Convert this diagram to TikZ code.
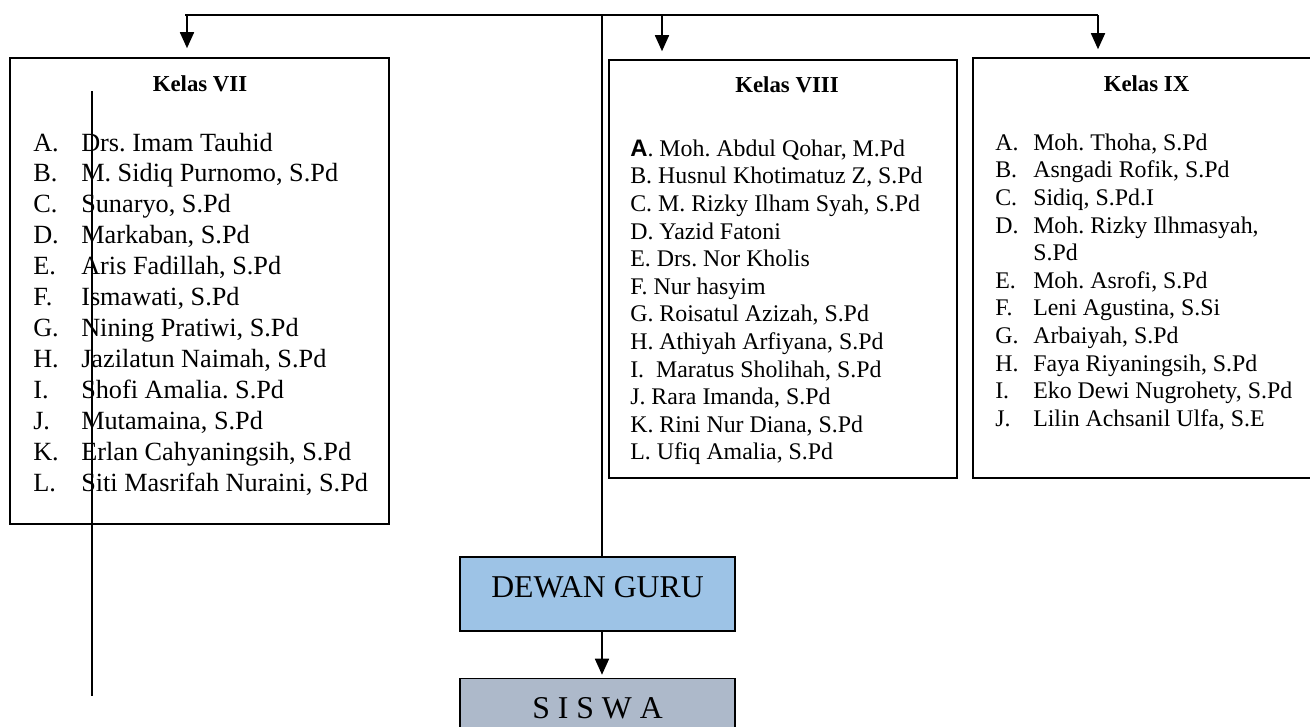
\documentclass[tikz,border=0pt]{standalone}
\usepackage{fontspec}
\setmainfont{Liberation Serif}
\newfontfamily\arialfont{Liberation Sans}
\usetikzlibrary{arrows.meta,positioning}
\definecolor{dgfill}{RGB}{157,195,230}
\definecolor{swfill}{RGB}{173,185,202}
\frenchspacing

\begin{document}
\begin{tikzpicture}[
    x=0.75pt, y=-0.75pt,
    box/.style={draw, line width=1.2pt, inner sep=0pt},
    ttl/.style={font=\fontsize{17.1}{20}\selectfont\bfseries, inner sep=0pt, anchor=base},
    lst/.style={inner sep=0pt, anchor=north west, align=left},
    big/.style={draw, line width=1.1pt, minimum width=206.25pt, minimum height=55.5pt, text height=15.75pt, text depth=11.25pt, font=\fontsize{23.8}{28}\selectfont},
    arr/.style={-{Triangle[width=10.5pt,length=12pt]}, line width=1.3pt},
    thin/.style={line width=0.8pt}
]
\useasboundingbox (0,0) rectangle (1310,726);
\clip (0,0) rectangle (1310,726);
\fill[white] (0,0) rectangle (1310,726);

% --- class boxes ---
\node[box, minimum width=284.25pt, minimum height=349.5pt] (k7) at (199.5,291) {};
\node[box, minimum width=261pt, minimum height=313.5pt] (k8) at (783,269) {};
\node[box, minimum width=260.25pt, minimum height=315pt] (k9) at (1146.5,268) {};

\node[ttl] (t7) at (200,91) {Kelas VII};
\node[ttl] (t8) at (787,92) {Kelas VIII};
\node[ttl] (t9) at (1146.5,91) {Kelas IX};

% --- teacher lists ---
\node[lst, font=\fontsize{19.7}{23.2}\selectfont] (l7) at (33,129.1) {%
  \begin{tabular}{@{}p{36pt}@{}l@{}}
  A. & Drs. Imam Tauhid\\
  B. & M. Sidiq Purnomo, S.Pd\\
  C. & Sunaryo, S.Pd\\
  D. & Markaban, S.Pd\\
  E. & Aris Fadillah, S.Pd\\
  F. & Ismawati, S.Pd\\
  G. & Nining Pratiwi, S.Pd\\
  H. & Jazilatun Naimah, S.Pd\\
  I. & Shofi Amalia. S.Pd\\
  J. & Mutamaina, S.Pd\\
  K. & Erlan Cahyaningsih, S.Pd\\
  L. & Siti Masrifah Nuraini, S.Pd
  \end{tabular}};

\node[lst, font=\fontsize{17.9}{20.7}\selectfont] (l8) at (630,136.7) {%
  \begin{tabular}{@{}l@{}}
  {\arialfont\bfseries A}. Moh. Abdul Qohar, M.Pd\\
  B. Husnul Khotimatuz Z, S.Pd\\
  C. M. Rizky Ilham Syah, S.Pd\\
  D. Yazid Fatoni\\
  E. Drs. Nor Kholis\\
  F. Nur hasyim\\
  G. Roisatul Azizah, S.Pd\\
  H. Athiyah Arfiyana, S.Pd\\
  I.\ \ Maratus Sholihah, S.Pd\\
  J. Rara Imanda, S.Pd\\
  K. Rini Nur Diana, S.Pd\\
  L. Ufiq Amalia, S.Pd
  \end{tabular}};

\node[lst, font=\fontsize{17.9}{20.7}\selectfont] (l9) at (995,130.7) {%
  \begin{tabular}{@{}p{28.5pt}@{}l@{}}
  A. & Moh. Thoha, S.Pd\\
  B. & Asngadi Rofik, S.Pd\\
  C. & Sidiq, S.Pd.I\\
  D. & Moh. Rizky Ilhmasyah,\\
     & S.Pd\\
  E. & Moh. Asrofi, S.Pd\\
  F. & Leni Agustina, S.Si\\
  G. & Arbaiyah, S.Pd\\
  H. & Faya Riyaningsih, S.Pd\\
  I. & Eko Dewi Nugrohety, S.Pd\\
  J. & Lilin Achsanil Ulfa, S.E
  \end{tabular}};

% --- teachers and students ---
\node[big, fill=dgfill] (dg) at (597.5,594) {DEWAN GURU};
\node[big, fill=swfill, below=34.5pt of dg] (sw) {S I S W A};

% --- connectors ---
\coordinate (bl) at (185,15);
\coordinate (br) at (1098,15);
\coordinate (a7) at (187,15);
\coordinate (a8) at (662,15);
\coordinate (bc) at (602,15);
\coordinate (s1) at (92,91);
\coordinate (s2) at (92,696);

\draw[line width=1.4pt] (bl) -- (br);
\draw[arr, shorten >=6.75pt] (a7) -- (a7 |- k7.north);
\draw[arr, shorten >=6pt] (a8) -- (a8 |- k8.north);
\draw[arr, shorten >=6pt] (br) -- (br |- k9.north);
\draw[thin] (bc) -- (bc |- dg.north);
\draw[arr, shorten >=2.25pt] (dg.south -| bc) -- (sw.north -| bc);
\draw[thin] (s1) -- (s2);
\end{tikzpicture}
\end{document}
